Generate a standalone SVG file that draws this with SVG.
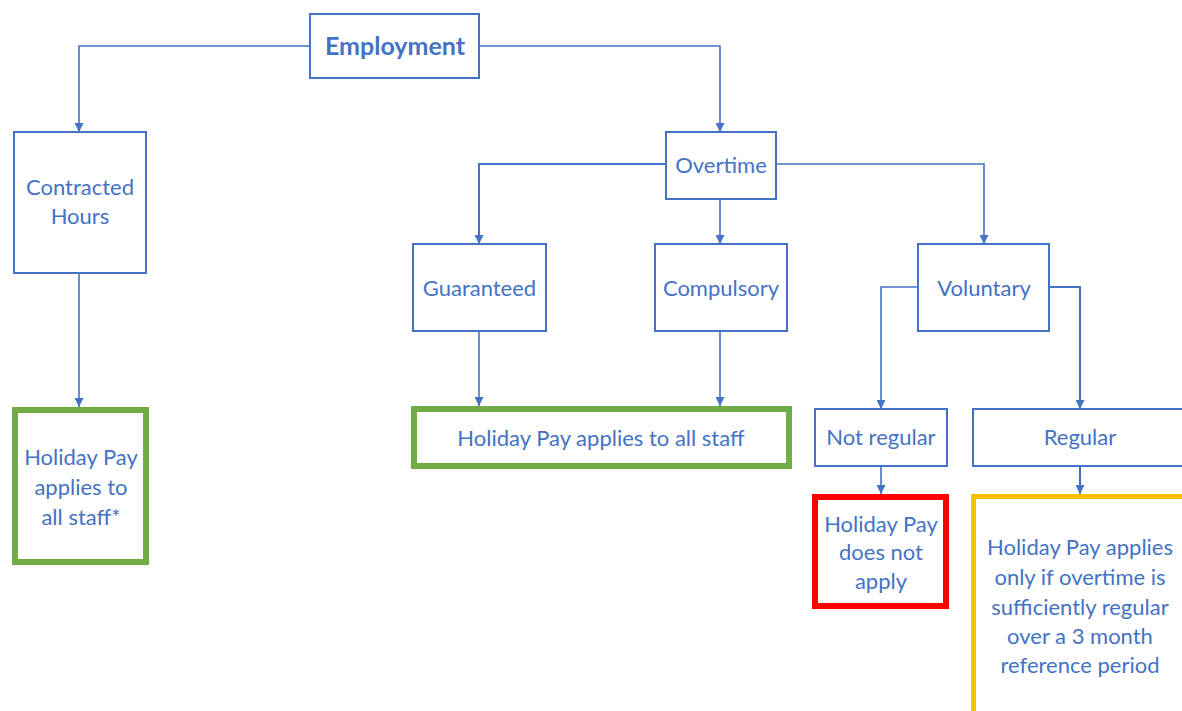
<svg xmlns="http://www.w3.org/2000/svg" width="1182" height="711" viewBox="0 0 1182 711">
<style>
.box{fill:#fff;stroke:#4472C4;stroke-width:2}
.green{fill:#fff;stroke:#70AD47;stroke-width:6}
.red{fill:#fff;stroke:#FF0000;stroke-width:6}
.yellow{fill:#fff;stroke:#FFC000;stroke-width:5}
.t{font-family:Lato,"Liberation Sans",sans-serif;font-size:22px;fill:#4472C4;text-anchor:middle}
.b{font-weight:bold;font-size:25px}
.c{fill:none;stroke:#4472C4;stroke-width:1.6}
</style>
<defs>
<marker id="ah" viewBox="0 0 10 10" refX="10" refY="5" markerWidth="9" markerHeight="9" markerUnits="userSpaceOnUse" orient="auto">
<path d="M0,0 L10,5 L0,10 z" fill="#4472C4"/>
</marker>
</defs>
<rect width="1182" height="711" fill="#fff"/>
<g id="connectors">
<path class="c" d="M310,46 H79 V132" marker-end="url(#ah)"/>
<path class="c" d="M479,46 H720 V132" marker-end="url(#ah)"/>
<path class="c" d="M79,273 V407" marker-end="url(#ah)"/>
<path class="c" d="M666,164 H479 V244" marker-end="url(#ah)" style="stroke-width:2"/>
<path class="c" d="M720,199 V244" marker-end="url(#ah)"/>
<path class="c" d="M776,164 H984 V244" marker-end="url(#ah)"/>
<path class="c" d="M479,331 V406" marker-end="url(#ah)"/>
<path class="c" d="M720,331 V406" marker-end="url(#ah)"/>
<path class="c" d="M918,287 H881 V409" marker-end="url(#ah)"/>
<path class="c" d="M1049,287 H1080 V409" marker-end="url(#ah)" style="stroke-width:2"/>
<path class="c" d="M881,466 V494" marker-end="url(#ah)"/>
<path class="c" d="M1080,466 V494" marker-end="url(#ah)" style="stroke-width:2"/>
</g>
<g id="employment">
<rect class="box" x="310" y="14" width="169" height="64"/>
<text class="t b" x="395" y="55">Employment</text>
</g>
<g id="contracted">
<rect class="box" x="14" y="132" width="132" height="141"/>
<text class="t" x="80" y="195">Contracted</text>
<text class="t" x="80" y="224">Hours</text>
</g>
<g id="overtime">
<rect class="box" x="666" y="132" width="110" height="67"/>
<text class="t" x="721" y="173">Overtime</text>
</g>
<g id="guaranteed">
<rect class="box" x="413" y="244" width="133" height="87"/>
<text class="t" x="479.5" y="296">Guaranteed</text>
</g>
<g id="compulsory">
<rect class="box" x="655" y="244" width="132" height="87"/>
<text class="t" x="721" y="296">Compulsory</text>
</g>
<g id="voluntary">
<rect class="box" x="918" y="244" width="131" height="87"/>
<text class="t" x="984" y="296">Voluntary</text>
</g>
<g id="notregular">
<rect class="box" x="815" y="409" width="132" height="57"/>
<text class="t" x="881" y="445">Not regular</text>
</g>
<g id="regular">
<rect class="box" x="973" y="409" width="215" height="57"/>
<text class="t" x="1080" y="445">Regular</text>
</g>
<g id="holiday-contracted">
<rect class="green" x="15" y="410" width="131" height="152"/>
<text class="t" x="81" y="465">Holiday Pay</text>
<text class="t" x="81" y="495">applies to</text>
<text class="t" x="81" y="525">all staff*</text>
</g>
<g id="holiday-all">
<rect class="green" x="414" y="409" width="375" height="57"/>
<text class="t" x="601" y="446">Holiday Pay applies to all staff</text>
</g>
<g id="holiday-notapply">
<rect class="red" x="815" y="497" width="131" height="109"/>
<text class="t" x="881" y="532">Holiday Pay</text>
<text class="t" x="881" y="560">does not</text>
<text class="t" x="881" y="589">apply</text>
</g>
<g id="holiday-regular">
<rect class="yellow" x="973.5" y="496.5" width="220" height="230"/>
<text class="t" x="1080" y="555">Holiday Pay applies</text>
<text class="t" x="1080" y="585">only if overtime is</text>
<text class="t" x="1080" y="615">sufficiently regular</text>
<text class="t" x="1080" y="644">over a 3 month</text>
<text class="t" x="1080" y="673">reference period</text>
</g>
</svg>
